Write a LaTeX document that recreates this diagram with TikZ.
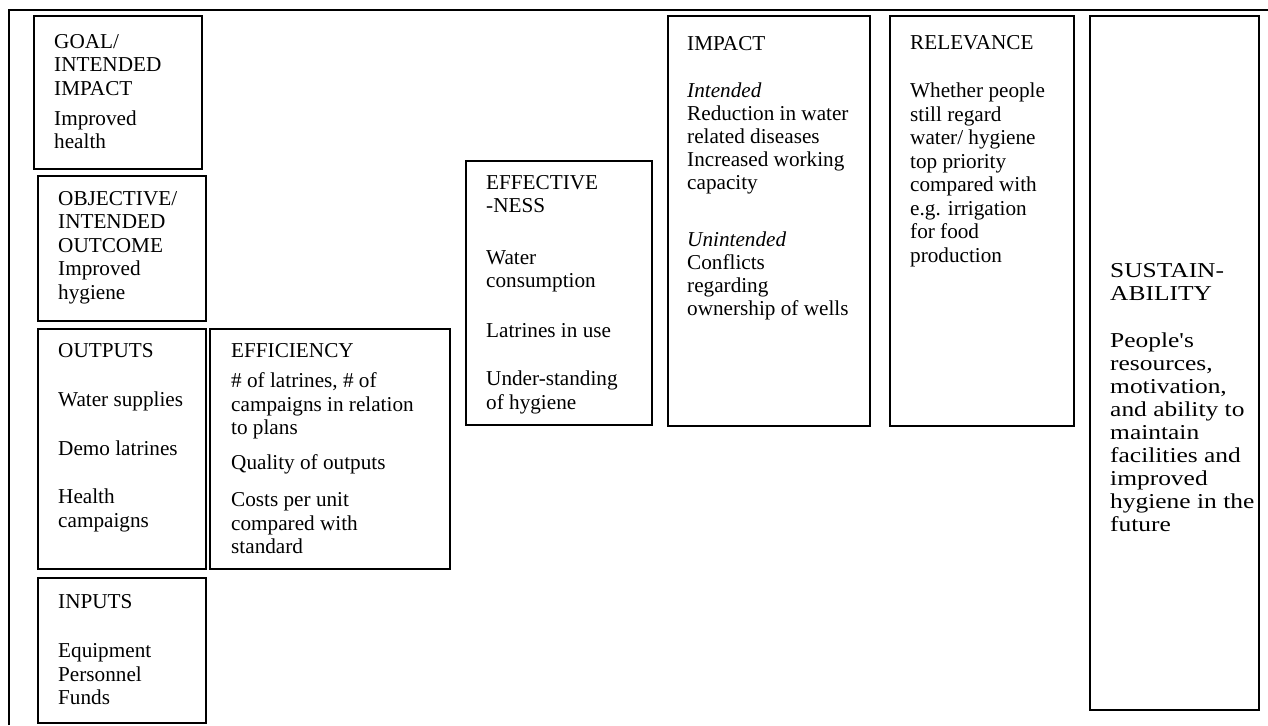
\documentclass[tikz,border=0pt]{standalone}
\usepackage{fontspec}
\newfontfamily\boxfont{Liberation Serif}
\newfontfamily\widefont{Liberation Serif}[FakeStretch=1.2]
\usetikzlibrary{positioning, calc}

\begin{document}
\begin{tikzpicture}[
    x=1pt, y=1pt,
    panel/.style={draw, line width=1.8pt, inner sep=0pt, anchor=north west},
    txt/.style={anchor=north west, align=left, inner sep=0pt,
                font=\boxfont\fontsize{21.2}{23.5}\selectfont},
    tighttxt/.style={txt, font=\boxfont\fontsize{21.2}{23}\selectfont},
    widetxt/.style={txt, font=\widefont\fontsize{21.2}{23}\selectfont}
]
    % canvas: 1268 x 725
    \path[use as bounding box] (0, 0) rectangle (1268, -725);

    % ==========================================
    % outer frame (only top and left edge visible)
    % ==========================================
    \draw[line width=1.8pt] (9, -725) -- (9, -10) -- (1268, -10);

    % ==========================================
    % left column: goal / objective / outputs / inputs
    % ==========================================
    \node[panel, minimum width=168, minimum height=153] (goal) at (33, -15) {};
    \node[txt] (goaltxt) at ([shift={(21, -16.5)}]goal.north west)
        {\strut GOAL/\\INTENDED\\IMPACT\\[6.5pt]Improved\\health};

    \node[panel, minimum width=168, minimum height=145] (objective) at (37, -175) {};
    \node[txt] (objectivetxt) at ([shift={(21, -13.5)}]objective.north west)
        {\strut OBJECTIVE/\\INTENDED\\OUTCOME\\Improved\\hygiene};

    \node[panel, minimum width=168, minimum height=240] (outputs) at (37, -328) {};
    \node[txt] (outputstxt) at ([shift={(21, -12.5)}]outputs.north west)
        {\strut OUTPUTS\\[26pt]Water supplies\\[25pt]Demo latrines\\[25pt]Health\\campaigns};

    \node[panel, minimum width=168, minimum height=145] (inputs) at (37, -577) {};
    \node[txt] (inputstxt) at ([shift={(21, -14.5)}]inputs.north west)
        {\strut INPUTS\\[26pt]Equipment\\Personnel\\Funds};

    % ==========================================
    % efficiency / effectiveness
    % ==========================================
    \node[panel, minimum width=240, minimum height=240] (efficiency) at (209, -328) {};
    \node[txt] (efficiencytxt) at ([shift={(22, -12.5)}]efficiency.north west)
        {\strut EFFICIENCY\\[7pt]\# of latrines, \# of\\campaigns in relation\\to plans\\[11.5pt]Quality of outputs\\[13.5pt]Costs per unit\\compared with\\standard};

    \node[panel, minimum width=186, minimum height=264] (effectiveness) at (465, -160) {};
    \node[txt] (effectivenesstxt) at ([shift={(21, -12.5)}]effectiveness.north west)
        {\strut EFFECTIVE\\-NESS\\[28pt]Water\\consumption\\[26pt]Latrines in use\\[25pt]Under-standing\\of hygiene};

    % ==========================================
    % impact / relevance / sustainability
    % ==========================================
    \node[panel, minimum width=202, minimum height=410] (impact) at (667, -15) {};
    \node[tighttxt] (impacttxt) at ([shift={(20, -19)}]impact.north west)
        {\strut IMPACT\\[24.5pt]\textit{Intended}\\Reduction in water\\related diseases\\Increased working\\capacity\\[33.5pt]\textit{Unintended}\\Conflicts\\regarding\\ownership of wells};

    \node[panel, minimum width=184, minimum height=410] (relevance) at (889, -15) {};
    \node[txt] (relevancetxt) at ([shift={(21, -18)}]relevance.north west)
        {\strut RELEVANCE\\[24.5pt]Whether people\\still regard\\water/ hygiene\\top priority\\compared with\\e.g. irrigation\\for food\\production};

    \node[panel, minimum width=169, minimum height=694] (sustain) at (1089, -15) {};
    \node[widetxt] (sustaintxt) at ([shift={(21, -246)}]sustain.north west)
        {\strut SUSTAIN-\\ABILITY\\[24.5pt]People's\\resources,\\motivation,\\and ability to\\maintain\\facilities and\\improved\\hygiene in the\\future};

\end{tikzpicture}
\end{document}
